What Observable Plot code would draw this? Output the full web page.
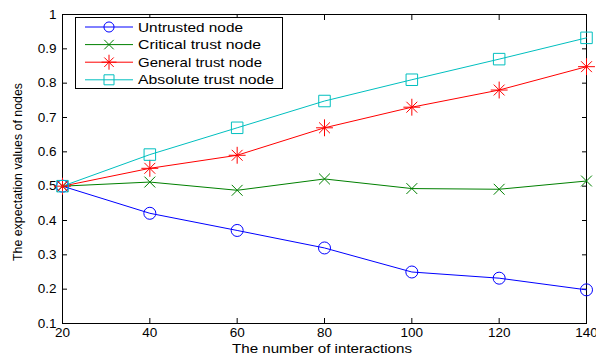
<!DOCTYPE html>
<html>
<head>
<meta charset="utf-8">
<script src="https://cdn.jsdelivr.net/npm/d3@7"></script>
<script src="https://cdn.jsdelivr.net/npm/@observablehq/plot@0.6"></script>
<style>
  html, body { margin: 0; padding: 0; background: #fff; }
  svg { display: block; }
</style>
</head>
<body>
<div id="chart"></div>
<script>
const interactions = [20, 40, 60, 80, 100, 120, 140];
const untrusted = [0.5, 0.421, 0.371, 0.32, 0.25, 0.232, 0.198];
const critical = [0.5, 0.512, 0.488, 0.521, 0.493, 0.491, 0.515];
const general = [0.5, 0.552, 0.59, 0.67, 0.73, 0.78, 0.848];
const absolute = [0.5, 0.592, 0.67, 0.748, 0.81, 0.87, 0.932];
const seriesNames = ["Untrusted node", "Critical trust node", "General trust node", "Absolute trust node"];
const seriesColors = ["#0000ff", "#008000", "#ff0000", "#00bfbf"];
const xTicks = [20, 40, 60, 80, 100, 120, 140];
const yTicks = [0.1, 0.2, 0.3, 0.4, 0.5, 0.6, 0.7, 0.8, 0.9, 1];
const xLabel = "The number of interactions";
const yLabel = "The expectation values of nodes";

const allSeries = [untrusted, critical, general, absolute];
const rows = [];
allSeries.forEach((vals, s) => vals.forEach((v, i) => rows.push({series: seriesNames[s], x: interactions[i], y: v})));
const bySeries = name => rows.filter(d => d.series === name);

const font = "'Liberation Sans', Arial, sans-serif";

const plot = Plot.plot({
  width: 596,
  height: 358,
  marginLeft: 62,
  marginRight: 10,
  marginTop: 14,
  marginBottom: 35,
  style: {fontFamily: font, fontSize: "13.5px", color: "#000", background: "#fff"},
  x: {domain: [20, 140]},
  y: {domain: [0.1, 1]},
  marks: [
    Plot.frame({stroke: "#000", strokeWidth: 1}),
    Plot.axisX({ticks: xTicks, tickSize: -5, tickPadding: 9, tickFormat: d => String(d), label: null, fontSize: 13.5}),
    Plot.axisX({anchor: "top", ticks: xTicks, tickSize: -5, tickFormat: () => "", label: null}),
    Plot.axisY({ticks: yTicks, tickSize: -5, tickPadding: 11, tickFormat: d => String(d), label: null, fontSize: 13.5}),
    Plot.axisY({anchor: "right", ticks: yTicks, tickSize: -5, tickFormat: () => "", label: null}),
    Plot.line(rows, {x: "x", y: "y", z: "series", stroke: "series", strokeWidth: 1}),
    Plot.dot(bySeries(seriesNames[0]), {x: "x", y: "y", stroke: seriesColors[0], symbol: "circle", r: 6, strokeWidth: 1}),
    Plot.dot(bySeries(seriesNames[1]), {x: "x", y: "y", stroke: seriesColors[1], symbol: "times", r: 5, strokeWidth: 1}),
    Plot.dot(bySeries(seriesNames[2]), {x: "x", y: "y", stroke: seriesColors[2], symbol: "plus", r: 5.5, strokeWidth: 1}),
    Plot.dot(bySeries(seriesNames[2]), {x: "x", y: "y", stroke: seriesColors[2], symbol: "times", r: 5, strokeWidth: 1}),
    Plot.dot(bySeries(seriesNames[3]), {x: "x", y: "y", stroke: seriesColors[3], symbol: "square", r: 6.5, strokeWidth: 1})
  ],
  color: {domain: seriesNames, range: seriesColors}
});

document.getElementById("chart").appendChild(plot);

const svg = d3.select(plot);

// Axis titles
svg.append("text").attr("x", 322).attr("y", 353).attr("text-anchor", "middle")
  .attr("font-family", font).attr("font-size", 13).attr("fill", "#000")
  .attr("textLength", 180).attr("lengthAdjust", "spacingAndGlyphs").text(xLabel);
svg.append("text").attr("transform", "translate(22,172) rotate(-90)").attr("text-anchor", "middle")
  .attr("font-family", font).attr("font-size", 13).attr("fill", "#000")
  .attr("textLength", 178).attr("lengthAdjust", "spacingAndGlyphs").text(yLabel);

// Legend box (inside the plot, top-left)
const lg = svg.append("g").attr("font-family", font).attr("font-size", 13).attr("text-anchor", "start");
lg.append("rect").attr("x", 75.5).attr("y", 17.5).attr("width", 207).attr("height", 71)
  .attr("fill", "#fff").attr("stroke", "#000").attr("stroke-width", 1);
const textLens = [105, 123, 124, 136];
seriesNames.forEach((name, i) => {
  const yy = 27 + i * 17.6;
  const g = lg.append("g").attr("transform", `translate(0,${yy})`);
  g.append("line").attr("x1", 85).attr("x2", 133).attr("y1", 0).attr("y2", 0)
    .attr("stroke", seriesColors[i]).attr("stroke-width", 1);
  const paths = i === 0 ? [d3.symbol(d3.symbolCircle, 80)()]
    : i === 1 ? [d3.symbol(d3.symbolTimes, 60)()]
    : i === 2 ? [d3.symbol(d3.symbolPlus, 75)(), d3.symbol(d3.symbolTimes, 60)()]
    : [d3.symbol(d3.symbolSquare, 100)()];
  paths.forEach(p => g.append("path").attr("d", p).attr("transform", "translate(109,0)")
    .attr("fill", "none").attr("stroke", seriesColors[i]).attr("stroke-width", 1));
  g.append("text").attr("x", 138).attr("y", 0).attr("dy", "0.35em").attr("fill", "#000")
    .attr("textLength", textLens[i]).attr("lengthAdjust", "spacingAndGlyphs").text(name);
});
</script>
</body>
</html>
